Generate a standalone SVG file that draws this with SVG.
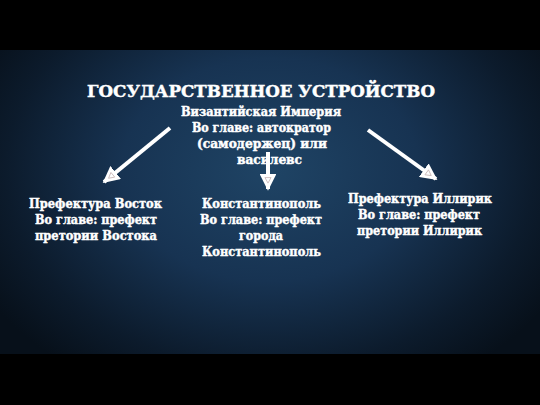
<svg xmlns="http://www.w3.org/2000/svg" width="540" height="405" viewBox="0 0 540 405">
<defs>
<radialGradient id="bg" cx="270" cy="170" r="330" gradientUnits="userSpaceOnUse" gradientTransform="translate(270 170) scale(1 0.75) translate(-270 -170)">
<stop offset="0" stop-color="#1f4465"/>
<stop offset="0.45" stop-color="#173352"/>
<stop offset="0.8" stop-color="#0c1b2c"/>
<stop offset="1" stop-color="#07101a"/>
</radialGradient>
<marker id="ah" viewBox="0 0 10 10" refX="9" refY="5" markerWidth="4.2" markerHeight="4.2" markerUnits="strokeWidth" orient="auto">
<path d="M0,0 L10,5 L0,10 Z" fill="#ffffff"/>
<path d="M2.2,3.2 L5.5,5 L2.2,6.8 Z" fill="none" stroke="#c9b8b8" stroke-width="0.5"/>
</marker>
<style>
text{font-family:"DejaVu Serif","Liberation Serif",serif;font-weight:bold;fill:#ffffff;stroke:#ffffff;stroke-width:0.45;text-anchor:middle}
.t{font-size:17px}
.n{font-size:12.5px}
.c{stroke:#ffffff;stroke-width:4;fill:none;marker-end:url(#ah)}
</style>
</defs>
<rect x="0" y="0" width="540" height="405" fill="#000000"/>
<rect x="0" y="50" width="540" height="304" fill="url(#bg)"/>
<g id="title">
<text class="t" x="261" y="97" textLength="348" lengthAdjust="spacingAndGlyphs">ГОСУДАРСТВЕННОЕ УСТРОЙСТВО</text>
</g>
<g id="connectors">
<line class="c" x1="170" y1="128" x2="104" y2="182"/>
<line class="c" x1="268" y1="152" x2="268" y2="189"/>
<line class="c" x1="368" y1="130" x2="436" y2="179"/>
</g>
<g id="empire">
<text class="n" x="261" y="116" textLength="160" lengthAdjust="spacingAndGlyphs">Византийская Империя</text>
<text class="n" x="261.5" y="132" textLength="139" lengthAdjust="spacingAndGlyphs">Во главе: автократор</text>
<text class="n" x="262" y="148" textLength="130" lengthAdjust="spacingAndGlyphs">(самодержец) или</text>
<text class="n" x="269.5" y="164" textLength="65" lengthAdjust="spacingAndGlyphs">василевс</text>
</g>
<g id="east">
<text class="n" x="95.5" y="208" textLength="133" lengthAdjust="spacingAndGlyphs">Префектура Восток</text>
<text class="n" x="96" y="224" textLength="122" lengthAdjust="spacingAndGlyphs">Во главе: префект</text>
<text class="n" x="96" y="240" textLength="122" lengthAdjust="spacingAndGlyphs">претории Востока</text>
</g>
<g id="constantinople">
<text class="n" x="261.5" y="208" textLength="119" lengthAdjust="spacingAndGlyphs">Константинополь</text>
<text class="n" x="261" y="224" textLength="122" lengthAdjust="spacingAndGlyphs">Во главе: префект</text>
<text class="n" x="261" y="240" textLength="44" lengthAdjust="spacingAndGlyphs">города</text>
<text class="n" x="261.5" y="256" textLength="119" lengthAdjust="spacingAndGlyphs">Константинополь</text>
</g>
<g id="illyricum">
<text class="n" x="420" y="203" textLength="144" lengthAdjust="spacingAndGlyphs">Префектура Иллирик</text>
<text class="n" x="419" y="219" textLength="122" lengthAdjust="spacingAndGlyphs">Во главе: префект</text>
<text class="n" x="419.5" y="235" textLength="125" lengthAdjust="spacingAndGlyphs">претории Иллирик</text>
</g>
</svg>
